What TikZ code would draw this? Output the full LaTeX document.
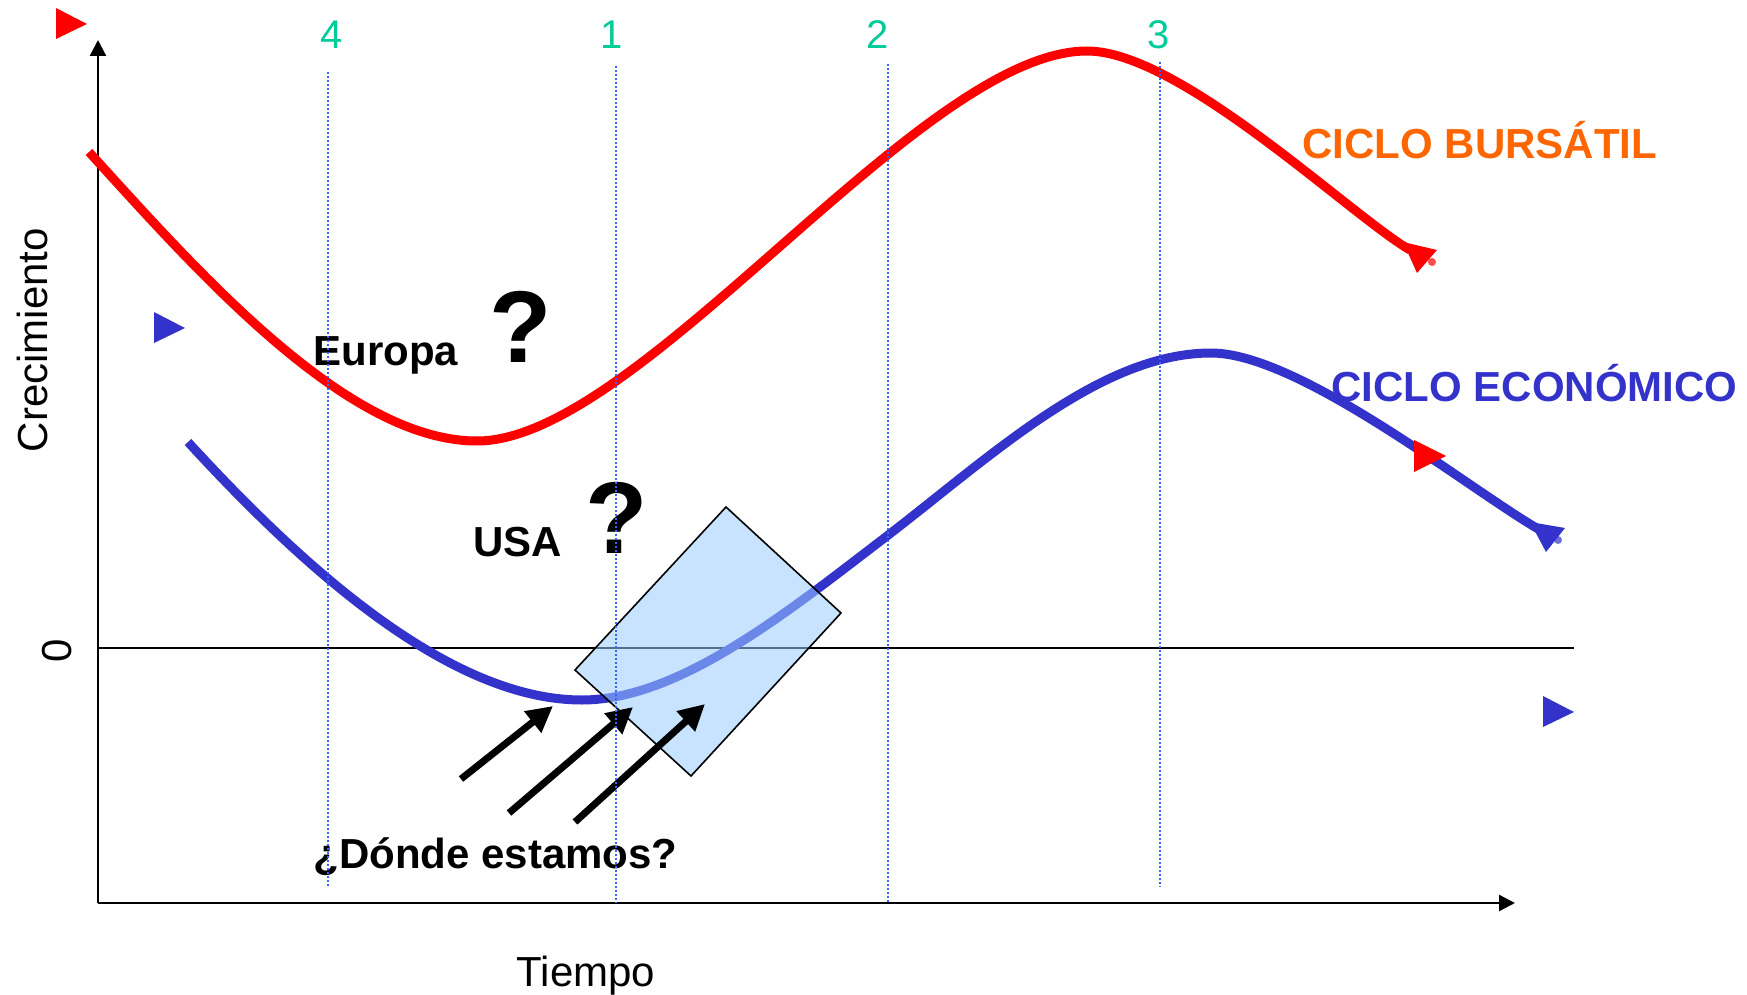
\documentclass[tikz,border=0pt]{standalone}
\usepackage{fontspec}
\setmainfont{Liberation Sans}
\usetikzlibrary{arrows.meta}

\definecolor{cicred}{RGB}{255,0,0}
\definecolor{cicblue}{RGB}{51,51,204}
\definecolor{cicorange}{RGB}{255,102,0}
\definecolor{cicgreen}{RGB}{0,204,153}
\definecolor{guideblue}{RGB}{51,102,255}
\definecolor{boxblue}{RGB}{153,204,255}

\begin{document}
\begin{tikzpicture}[x=0.5pt, y=-0.5pt,
    txt/.style={inner sep=0pt, font=\fontsize{21}{25}\selectfont},
    btxt/.style={inner sep=0pt, font=\fontsize{21}{25}\selectfont\bfseries},
    numtxt/.style={inner sep=0pt, cicgreen, font=\fontsize{20}{24}\selectfont},
    qmark/.style={inner sep=0pt, font=\fontsize{51}{60}\selectfont\bfseries},
    axis/.style={line width=1.2pt, -{Triangle[length=8pt,width=8pt]}},
    ciclo/.style={line width=4.5pt},
    guide/.style={guideblue, line width=1pt, dash pattern=on 1.2pt off 0.8pt},
    pointer/.style={line width=3.5pt, -{Triangle[length=13pt,width=13pt]}}]
        \useasboundingbox (0,0) rectangle (1747,995);

        % Axes
        \coordinate (O) at (98,903);
        \coordinate (ytop) at (98,40);
        \coordinate (xend) at (1515,903);
        \draw[axis] (O) -- (ytop);
        \draw[axis] (O) -- (xend);
        \node[txt, rotate=90, anchor=base] (ylab) at (47,340) {Crecimiento};
        \node[txt, anchor=base] (xlab) at (586,986) {Tiempo};

        % Zero level
        \coordinate (z0) at (98,648);
        \coordinate (z1) at (1574,648);
        \draw[line width=0.85pt] (z0) -- (z1);
        \node[txt, rotate=90, anchor=base] (zero) at (71,651) {0};

        % Stock market cycle
        \coordinate (rs) at (89,152);
        \coordinate (rmin) at (477,441);
        \coordinate (rmax) at (1087,51);
        \coordinate (re) at (1410,250);
        \draw[ciclo, cicred] (rs) .. controls (199,273) and (347,441) .. (rmin)
            .. controls (640,441) and (920,51) .. (rmax)
            .. controls (1180,51) and (1350,215) .. (re);
        \fill[cicred] (1403,242) -- (1437,250) -- (1417,273) -- cycle;
        \fill[cicred, opacity=0.7] (1432,262) circle (2pt);
        \node[btxt, cicorange, anchor=base west] (bursatil) at (1302,159) {CICLO BURSÁTIL};

        % Economic cycle
        \coordinate (bs) at (188,442);
        \coordinate (bmin) at (582,700);
        \coordinate (bmid) at (887,536);
        \coordinate (bmax) at (1211,353);
        \coordinate (be) at (1540,530);
        \draw[ciclo, cicblue] (bs) .. controls (308,573) and (452,700) .. (bmin)
            .. controls (680,700) and (790,610) .. (bmid)
            .. controls (990,457) and (1100,353) .. (bmax)
            .. controls (1300,353) and (1470,490) .. (be);
        \fill[cicblue] (1530,522) -- (1565,528) -- (1546,552) -- cycle;
        \fill[cicblue, opacity=0.7] (1558,540) circle (2pt);
        \node[btxt, cicblue, anchor=base west] (economico) at (1331,401) {CICLO ECONÓMICO};

        % Markers
        \fill[cicred] (56,8) -- (56,39) -- (87,24) -- cycle;
        \fill[cicblue] (154,312) -- (154,343) -- (185,328) -- cycle;
        \fill[cicred] (1414,440) -- (1414,472) -- (1446,456) -- cycle;
        \fill[cicblue] (1543,696) -- (1543,727) -- (1574,712) -- cycle;

        % Where are we
        \draw[fill=boxblue, fill opacity=0.55, line width=0.8pt]
            (726,507) -- (841,613) -- (691,776) -- (575,670) -- cycle;
        \coordinate (t1) at (461,779); \coordinate (h1) at (553,706);
        \coordinate (t2) at (509,813); \coordinate (h2) at (633,707);
        \coordinate (t3) at (575,822); \coordinate (h3) at (705,704);
        \draw[pointer] (t1) -- (h1);
        \draw[pointer] (t2) -- (h2);
        \draw[pointer] (t3) -- (h3);
        \node[btxt, anchor=base west] (donde) at (313,868) {¿Dónde estamos?};

        % Regions
        \node[btxt, anchor=base west] (europa) at (313,365) {Europa};
        \node[qmark, anchor=base west] (qeuropa) at (489,362) {?};
        \node[btxt, anchor=base west] (usa) at (473,556) {USA};
        \node[qmark, anchor=base west] (qusa) at (585,553) {?};

        % Phases
        \foreach \lx/\gx/\n/\gtop/\gbot in {332/328/4/72/886, 612/616/1/66/903,
                878/888/2/64/903, 1159/1160/3/62/887} {
            \node[numtxt, anchor=base] (num\n) at (\lx,49) {\n};
            \draw[guide] (\gx,\gtop) -- (\gx,\gbot);
        }
\end{tikzpicture}
\end{document}
